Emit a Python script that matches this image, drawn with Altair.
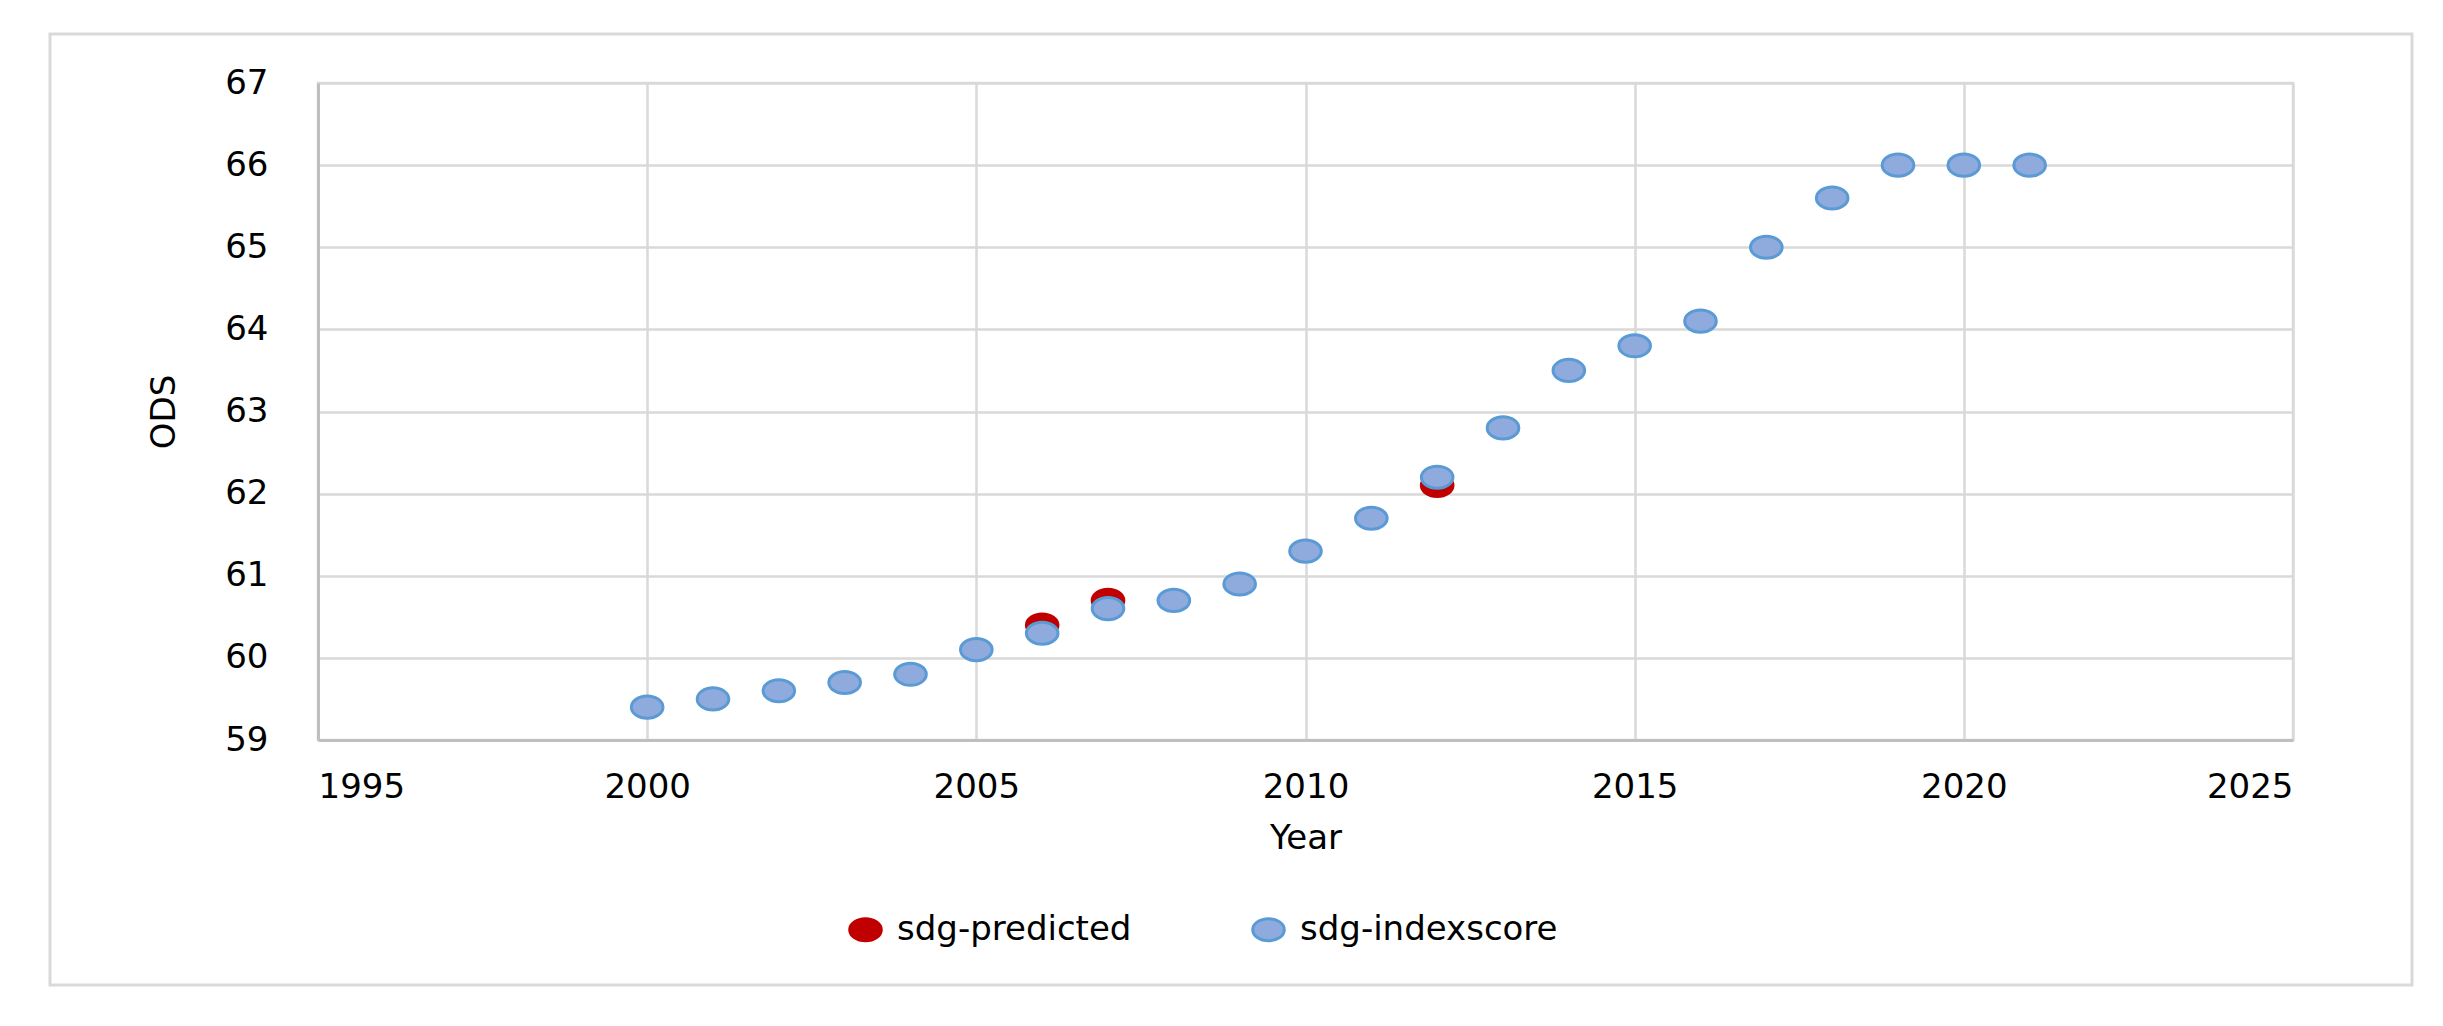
import altair as alt
import pandas as pd

years = list(range(2000, 2022))
index_score = [59.4, 59.5, 59.6, 59.7, 59.8, 60.1, 60.3, 60.6, 60.7, 60.9, 61.3,
               61.7, 62.2, 62.8, 63.5, 63.8, 64.1, 65.0, 65.6, 66.0, 66.0, 66.0]
pred_years = [2006, 2007, 2012]
predicted = [60.4, 60.7, 62.1]
series_names = ["sdg-predicted", "sdg-indexscore"]
x_ticks = [1995, 2000, 2005, 2010, 2015, 2020, 2025]
y_ticks = [59, 60, 61, 62, 63, 64, 65, 66, 67]

df = pd.concat([
    pd.DataFrame({"Year": pred_years, "ODS": predicted, "series": series_names[0]}),
    pd.DataFrame({"Year": years, "ODS": index_score, "series": series_names[1]}),
], ignore_index=True)

W, H = 1975, 657
FONT = "DejaVu Sans"
FS = 34
ELLIPSE = "M -1 0 A 1 0.7 0 1 0 1 0 A 1 0.7 0 1 0 -1 0 Z"
SYM = 1000

frame = alt.Chart(pd.DataFrame({"a": [0]})).mark_rect(
    fill=None, stroke="#D9D9D9", strokeWidth=3, clip=False
).encode(
    x=alt.value(-268), x2=alt.value(W + 119),
    y=alt.value(-49), y2=alt.value(H + 245),
)

legend = alt.Legend(title=None, orient="none", direction="horizontal",
                    legendX=530, legendY=829, symbolSize=SYM, symbolType=ELLIPSE,
                    symbolStrokeWidth=3, labelFontSize=FS, labelFont=FONT,
                    labelColor="black", columnPadding=114, labelOffset=14,
                    labelLimit=500)

points = alt.Chart(df).mark_point(filled=True, size=SYM, shape=ELLIPSE,
                                  strokeWidth=3, opacity=1).encode(
    x=alt.X("Year:Q", scale=alt.Scale(domain=[1995, 2025], nice=False),
            axis=alt.Axis(values=x_ticks, format="d", title="Year",
                          labelPadding=47, labelBaseline="middle",
                          titleY=98, titleBaseline="middle")),
    y=alt.Y("ODS:Q", scale=alt.Scale(domain=[59, 67], nice=False, zero=False),
            axis=alt.Axis(values=y_ticks, title="ODS", labelPadding=50,
                          titleX=-154, titleBaseline="middle")),
    fill=alt.Fill("series:N", scale=alt.Scale(domain=series_names, range=["#C00000", "#8FAADC"]),
                  legend=legend),
    stroke=alt.Stroke("series:N", scale=alt.Scale(domain=series_names, range=["#C00000", "#5B9BD5"]),
                      legend=legend),
)

chart = alt.layer(frame, points).properties(
    width=W, height=H,
    autosize=alt.AutoSizeParams(type="none"),
    padding={"left": 310, "top": 75, "right": 140, "bottom": 270},
).configure_view(
    stroke="#D9D9D9", strokeWidth=2.5
).configure_axis(
    labelFont=FONT, titleFont=FONT, labelFontSize=FS, titleFontSize=FS,
    labelColor="black", titleColor="black", titleFontWeight="normal",
    grid=True, gridColor="#D9D9D9", gridWidth=2.5,
    ticks=False, tickSize=0,
    domainColor="#BFBFBF", domainWidth=3,
)

chart.save("out.html", embed_options={"renderer": "svg", "actions": False})
